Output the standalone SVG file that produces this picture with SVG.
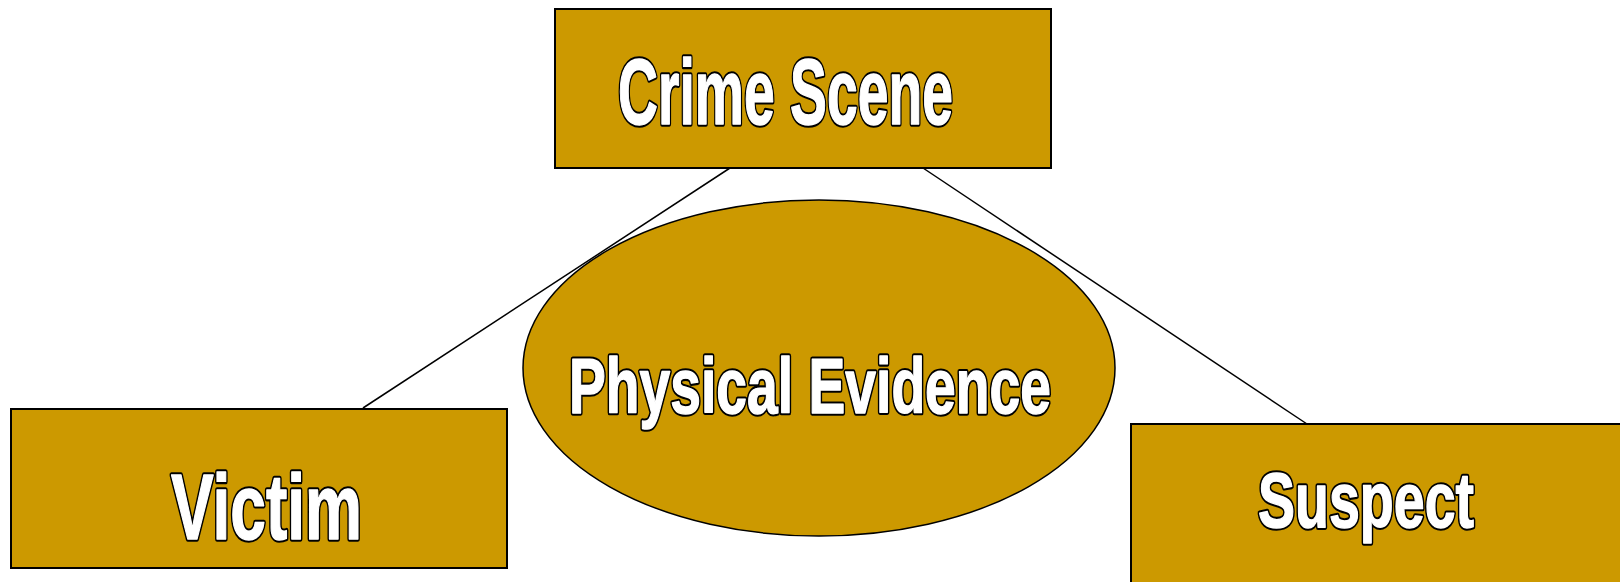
<svg xmlns="http://www.w3.org/2000/svg" width="1620" height="582" viewBox="0 0 1620 582">
<style>
.box{fill:#CC9900;stroke:#000;stroke-width:2}
.ell{fill:#CC9900;stroke:#000;stroke-width:1.5}
.lbl{font-family:"Liberation Sans",Arial,sans-serif;font-weight:bold}
.out{fill:#000;stroke:#000;stroke-width:5.5;stroke-linejoin:round}
.in{fill:#fff;stroke:#fff;stroke-width:1.4;stroke-linejoin:round}
.conn{stroke:#000;stroke-width:1.5;fill:none}
</style>
<defs>
<text id="t-pe" class="lbl" x="569" y="413" font-size="77" textLength="482" lengthAdjust="spacingAndGlyphs">Physical Evidence</text>
<text id="t-cs" class="lbl" x="618" y="124" font-size="92" textLength="335" lengthAdjust="spacingAndGlyphs">Crime Scene</text>
<text id="t-v" class="lbl" x="171" y="539" font-size="92" textLength="191" lengthAdjust="spacingAndGlyphs">Victim</text>
<text id="t-s" class="lbl" x="1258" y="527" font-size="77" textLength="216" lengthAdjust="spacingAndGlyphs">Suspect</text>
</defs>
<rect width="1620" height="582" fill="#fff"/>
<g id="node-physical-evidence">
<ellipse class="ell" cx="819" cy="368" rx="296" ry="168"/>
<use href="#t-pe" class="out"/><use href="#t-pe" class="in"/>
</g>
<g id="connectors">
<line class="conn" x1="730" y1="168" x2="363" y2="408"/>
<line class="conn" x1="923" y1="168" x2="1307" y2="424"/>
</g>
<g id="node-crime-scene">
<rect class="box" x="555" y="9" width="496" height="159"/>
<use href="#t-cs" class="out"/><use href="#t-cs" class="in"/>
</g>
<g id="node-victim">
<rect class="box" x="11" y="409" width="496" height="159"/>
<use href="#t-v" class="out"/><use href="#t-v" class="in"/>
</g>
<g id="node-suspect">
<rect class="box" x="1131" y="424" width="500" height="170"/>
<use href="#t-s" class="out"/><use href="#t-s" class="in"/>
</g>
</svg>
